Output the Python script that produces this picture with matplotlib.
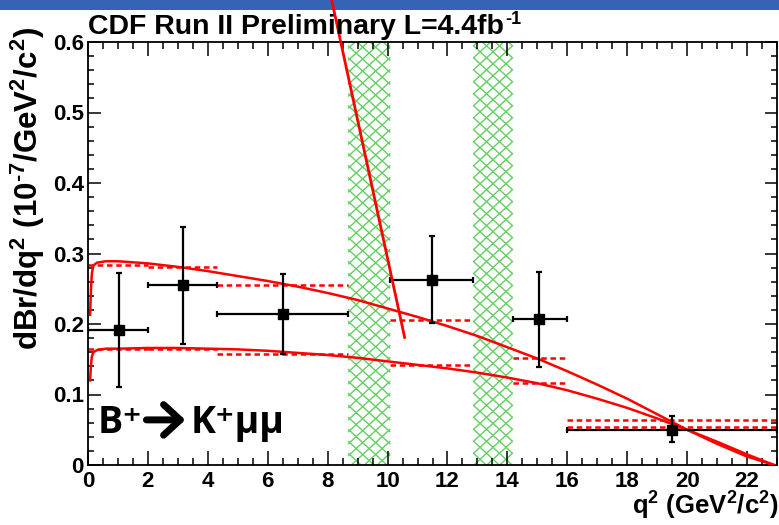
import matplotlib
matplotlib.use('Agg')
import matplotlib.pyplot as plt
import numpy as np
from matplotlib.collections import LineCollection
from matplotlib.patches import Rectangle

# ---------------- data ----------------
bin_lo = [0.0, 2.0, 4.3, 10.09, 14.18, 16.0]
bin_hi = [2.0, 4.3, 8.68, 12.86, 16.0, 23.0]
x_pts = [1.03, 3.16, 6.5, 11.47, 15.07, 19.48]
y_pts = [0.191, 0.255, 0.214, 0.262, 0.207, 0.050]
y_up = [0.272, 0.338, 0.271, 0.325, 0.274, 0.070]
y_dn = [0.111, 0.171, 0.157, 0.202, 0.139, 0.032]

sm_hi_bin = [0.283, 0.281, 0.256, 0.205, 0.152, 0.064]
sm_lo_bin = [0.165, 0.165, 0.158, 0.142, 0.116, 0.054]

curve_x = [0.07, 0.1, 0.13, 0.18, 0.3, 0.6, 1, 2, 3, 4, 5, 6, 7, 8, 9, 10, 11,
           12, 13, 14, 15, 16, 17, 18, 19, 20, 21, 22, 22.9]
curve_hi = [0.213, 0.25, 0.272, 0.283, 0.287, 0.289, 0.289, 0.286, 0.281, 0.275,
            0.268, 0.261, 0.253, 0.244, 0.234, 0.222, 0.210, 0.197, 0.183, 0.167,
            0.151, 0.133, 0.114, 0.094, 0.072, 0.050, 0.030, 0.012, 0.0]
curve_lo = [0.12, 0.142, 0.154, 0.160, 0.163, 0.165, 0.165, 0.166, 0.166, 0.165,
            0.164, 0.162, 0.159, 0.156, 0.152, 0.147, 0.142, 0.137, 0.131, 0.124,
            0.116, 0.106, 0.094, 0.081, 0.066, 0.050, 0.033, 0.015, 0.0]

steep_x = [8.03, 10.57]
steep_y = [0.68, 0.181]

veto_lo = [8.68, 12.86]
veto_hi = [10.09, 14.18]

x_ticks = [0, 2, 4, 6, 8, 10, 12, 14, 16, 18, 20, 22]
y_ticks = [0, 0.1, 0.2, 0.3, 0.4, 0.5, 0.6]

# ---------------- style ----------------
plt.rcParams['font.family'] = ['Liberation Sans', 'DejaVu Sans']
plt.rcParams['font.weight'] = 'bold'
plt.rcParams['mathtext.fontset'] = 'custom'
plt.rcParams['mathtext.rm'] = 'Liberation Sans:bold'
plt.rcParams['mathtext.bf'] = 'Liberation Sans:bold'
plt.rcParams['mathtext.default'] = 'rm'

W, H = 779, 525
fig = plt.figure(figsize=(W / 100, H / 100), dpi=100)
fig.patch.set_facecolor('white')

# blue strip at the very top
fig.patches.append(Rectangle((0, 1 - 9.5 / H), 1, 9.5 / H, transform=fig.transFigure,
                             facecolor='#3563b6', edgecolor='none', zorder=-1))

ax = fig.add_axes([88 / W, (H - 465) / H, (777 - 88) / W, (465 - 42) / H])
ax.set_xlim(0, 23)
ax.set_ylim(0, 0.6)

# veto bands, cross-hatched
green = '#62cf62'
for lo, hi in zip(veto_lo, veto_hi):
    w = 0.433
    dc = 0.017
    s = dc / w
    segs = []
    span = hi - lo
    c = -s * span - dc
    while c < 0.6 + dc:
        segs.append([(lo, c), (hi, c + s * span)])
        segs.append([(lo, c + s * span), (hi, c)])
        c += dc
    ax.add_collection(LineCollection(segs, colors=green, linewidths=1.0, zorder=1))

# SM bin averages (dashed)
for lo, hi, a, b in zip(bin_lo, bin_hi, sm_hi_bin, sm_lo_bin):
    ax.plot([lo, hi], [a, a], color='red', lw=1.8, dashes=(2.2, 1.5), zorder=2)
    ax.plot([lo, hi], [b, b], color='red', lw=1.8, dashes=(2.2, 1.5), zorder=2)

# SM curves
ax.plot(curve_x, curve_hi, color='red', lw=1.8, zorder=3)
ax.plot(curve_x, curve_lo, color='red', lw=1.8, zorder=3)

# steep line
ax.plot(steep_x, steep_y, color='red', lw=2.0, zorder=6, clip_on=False)

# data
xerr = [np.array(x_pts) - np.array(bin_lo), np.array(bin_hi) - np.array(x_pts)]
yerr = [np.array(y_pts) - np.array(y_dn), np.array(y_up) - np.array(y_pts)]
ax.errorbar(x_pts, y_pts, xerr=xerr, yerr=yerr, fmt='s', color='black',
            ms=7.5, elinewidth=1.6, capsize=2.5, capthick=1.6, zorder=5)

# axes styling
for sp in ax.spines.values():
    sp.set_linewidth(1.3)
ax.set_xticks(x_ticks)
ax.set_yticks(y_ticks)
ax.set_xticklabels([str(t) for t in x_ticks])
ax.set_yticklabels(['0'] + ['%.1f' % t for t in y_ticks[1:]])
ax.set_xticks(np.arange(0, 23.01, 0.5), minor=True)
ax.set_yticks(np.arange(0, 0.601, 0.02), minor=True)
ax.tick_params(axis='both', which='both', direction='in', top=True, right=True,
               width=1.1, labelsize=16)
ax.tick_params(axis='x', which='major', length=10, pad=4.5)
ax.tick_params(axis='x', which='minor', length=5)
ax.tick_params(axis='y', which='major', length=9, pad=3)
ax.tick_params(axis='y', which='minor', length=4.5)

# texts
HY = '\u2010'
renderer = fig.canvas.get_renderer()
t_title = fig.text(88 / W, 1 - 34 / H, 'CDF Run II Preliminary L=4.4fb',
                   fontsize=20.5, fontweight='bold', ha='left', va='baseline')
bb = t_title.get_window_extent(renderer=renderer)
fig.text(bb.x1 / W + 1 / W, 1 - 24 / H, '-1', fontsize=13, fontweight='bold',
         ha='left', va='baseline')

fig.text(28 / W, 1 - 27 / H,
         r'dBr/dq$^{2}$ (10$^{' + HY + r'7}$/GeV$^{2}$/c$^{2}$)',
         fontsize=22.5, fontweight='bold', rotation=90, ha='center', va='top')
fig.text(1.0, 1 - 515 / H, r'q$^{2}$ (GeV$^{2}$/c$^{2}$)',
         fontsize=18.5, fontweight='bold', ha='right', va='baseline')

lab_font = ['Open Sans', 'DejaVu Sans']
ax.text(0.33, 0.045, 'B\u207a', fontsize=27, family=lab_font, fontweight='bold',
        ha='left', va='baseline', zorder=7)
ax.annotate('', xy=(3.25, 0.064), xytext=(1.95, 0.064),
            arrowprops=dict(arrowstyle='->,head_length=0.6,head_width=0.55',
                            mutation_scale=20, lw=5.0, color='black',
                            shrinkA=0, shrinkB=0),
            zorder=7)
ax.text(3.42, 0.045, 'K\u207a\u03bc\u03bc', fontsize=27, family=lab_font,
        fontweight='bold', ha='left', va='baseline', zorder=7)

fig.savefig('out.png', dpi=100)
